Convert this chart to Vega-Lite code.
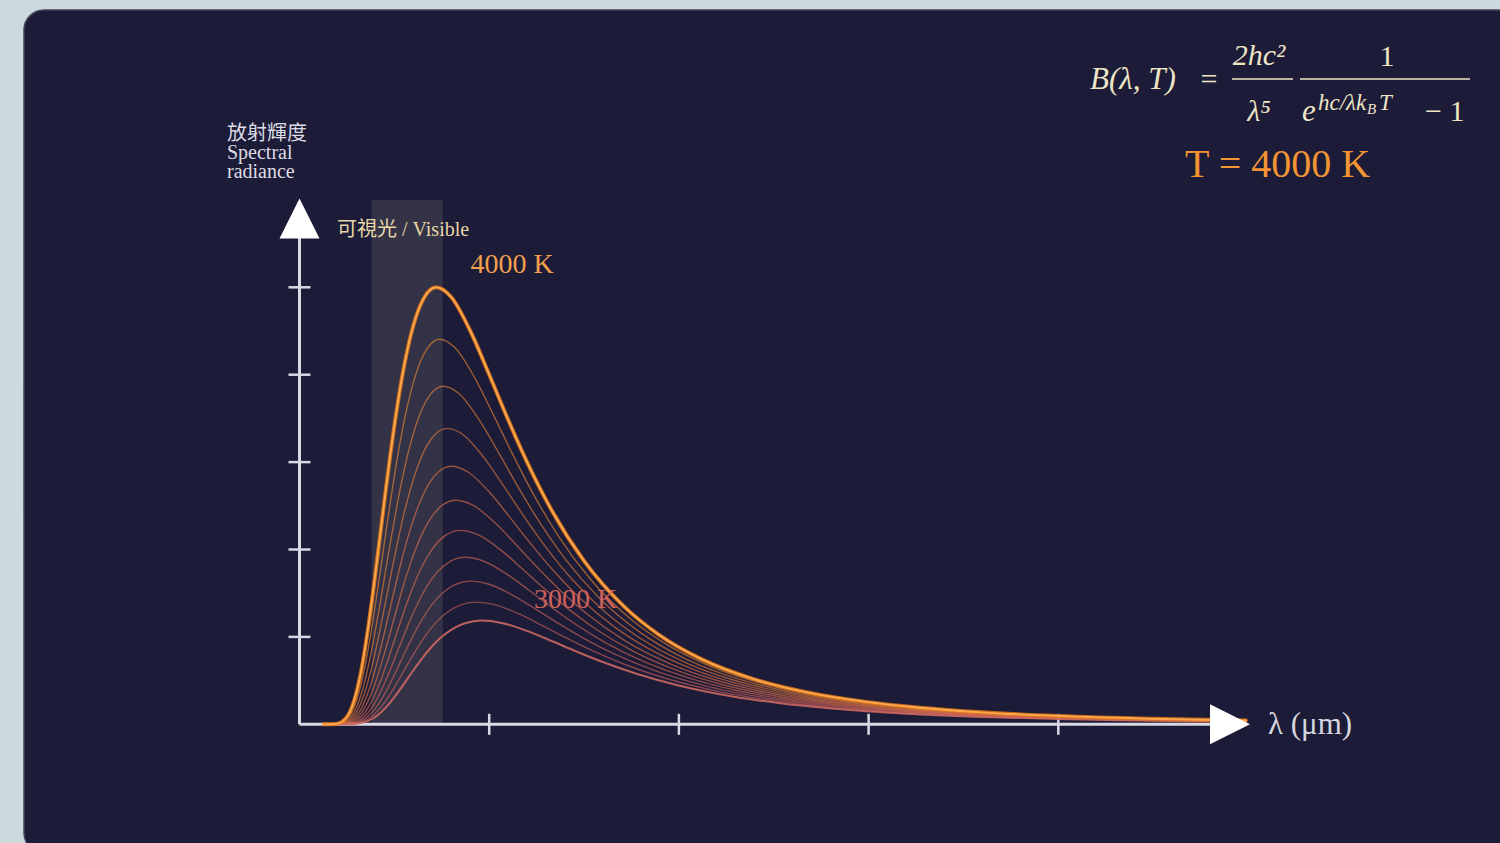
{
  "$schema": "https://vega.github.io/schema/vega-lite/v6.json",
  "width": 1500,
  "height": 843,
  "autosize": {"type": "fit", "contains": "padding"},
  "padding": {"left": 24, "top": 10, "right": -20, "bottom": -10},
  "background": "#cbdadd",
  "config": {"view": {"fill": "#1c1b38", "stroke": "#46465a", "strokeWidth": 1.5, "cornerRadius": 20}},
  "datasets": {
    "planck": [
      {"T":4000,"wavelength":4.9958,"radiance":0.0433},{"T":4000,"wavelength":4.4963,"radiance":0.0631},{"T":4000,"wavelength":3.9967,"radiance":0.0954},{"T":4000,"wavelength":3.597,"radiance":0.1373},{"T":4000,"wavelength":3.27,"radiance":0.1895},{"T":4000,"wavelength":2.9975,"radiance":0.2529},{"T":4000,"wavelength":2.6644,"radiance":0.3701},{"T":4000,"wavelength":2.398,"radiance":0.5144},{"T":4000,"wavelength":2.1159,"radiance":0.7485},{"T":4000,"wavelength":1.8932,"radiance":1.0271},{"T":4000,"wavelength":1.7129,"radiance":1.3441},{"T":4000,"wavelength":1.4988,"radiance":1.8736},{"T":4000,"wavelength":1.3322,"radiance":2.4381},{"T":4000,"wavelength":1.199,"radiance":3.0028},{"T":4000,"wavelength":1.09,"radiance":3.5345},{"T":4000,"wavelength":0.9992,"radiance":4.0059},{"T":4000,"wavelength":0.8993,"radiance":4.5057},{"T":4000,"wavelength":0.7993,"radiance":4.8889},{"T":4000,"wavelength":0.7194,"radiance":4.9995},{"T":4000,"wavelength":0.654,"radiance":4.8707},{"T":4000,"wavelength":0.5995,"radiance":4.557},{"T":4000,"wavelength":0.5534,"radiance":4.1202},{"T":4000,"wavelength":0.5139,"radiance":3.6178},{"T":4000,"wavelength":0.4796,"radiance":3.0971},{"T":4000,"wavelength":0.4496,"radiance":2.5933},{"T":4000,"wavelength":0.3997,"radiance":1.7188},{"T":4000,"wavelength":0.3597,"radiance":1.0708},{"T":4000,"wavelength":0.327,"radiance":0.6344},{"T":4000,"wavelength":0.2998,"radiance":0.3606},{"T":4000,"wavelength":0.2767,"radiance":0.1979},{"T":4000,"wavelength":0.2569,"radiance":0.1055},{"T":4000,"wavelength":0.2248,"radiance":0.0278},{"T":4000,"wavelength":0.1998,"radiance":0.0068},{"T":4000,"wavelength":0.1799,"radiance":0.0016},{"T":4000,"wavelength":0.1199,"radiance":0},
      {"T":3900,"wavelength":4.919,"radiance":0.0442},{"T":3900,"wavelength":4.6115,"radiance":0.0556},{"T":3900,"wavelength":4.0991,"radiance":0.0841},{"T":3900,"wavelength":3.6892,"radiance":0.1209},{"T":3900,"wavelength":3.3539,"radiance":0.167},{"T":3900,"wavelength":3.0744,"radiance":0.2229},{"T":3900,"wavelength":2.7328,"radiance":0.3261},{"T":3900,"wavelength":2.4595,"radiance":0.4532},{"T":3900,"wavelength":2.1701,"radiance":0.6595},{"T":3900,"wavelength":1.9417,"radiance":0.9049},{"T":3900,"wavelength":1.7568,"radiance":1.1842},{"T":3900,"wavelength":1.5372,"radiance":1.6508},{"T":3900,"wavelength":1.3664,"radiance":2.1482},{"T":3900,"wavelength":1.2297,"radiance":2.6457},{"T":3900,"wavelength":1.118,"radiance":3.1142},{"T":3900,"wavelength":1.0248,"radiance":3.5296},{"T":3900,"wavelength":0.9223,"radiance":3.97},{"T":3900,"wavelength":0.8198,"radiance":4.3076},{"T":3900,"wavelength":0.7379,"radiance":4.405},{"T":3900,"wavelength":0.6708,"radiance":4.2915},{"T":3900,"wavelength":0.6149,"radiance":4.0152},{"T":3900,"wavelength":0.5676,"radiance":3.6303},{"T":3900,"wavelength":0.527,"radiance":3.1876},{"T":3900,"wavelength":0.4919,"radiance":2.7288},{"T":3900,"wavelength":0.4612,"radiance":2.2849},{"T":3900,"wavelength":0.4099,"radiance":1.5144},{"T":3900,"wavelength":0.3689,"radiance":0.9434},{"T":3900,"wavelength":0.3354,"radiance":0.5589},{"T":3900,"wavelength":0.3074,"radiance":0.3177},{"T":3900,"wavelength":0.2838,"radiance":0.1744},{"T":3900,"wavelength":0.2635,"radiance":0.0929},{"T":3900,"wavelength":0.2306,"radiance":0.0245},{"T":3900,"wavelength":0.205,"radiance":0.006},{"T":3900,"wavelength":0.1845,"radiance":0.0014},{"T":3900,"wavelength":0.123,"radiance":0},
      {"T":3800,"wavelength":4.7329,"radiance":0.0488},{"T":3800,"wavelength":4.207,"radiance":0.0738},{"T":3800,"wavelength":3.7863,"radiance":0.1062},{"T":3800,"wavelength":3.4421,"radiance":0.1466},{"T":3800,"wavelength":3.1553,"radiance":0.1957},{"T":3800,"wavelength":2.8047,"radiance":0.2864},{"T":3800,"wavelength":2.5242,"radiance":0.398},{"T":3800,"wavelength":2.2272,"radiance":0.5791},{"T":3800,"wavelength":1.9928,"radiance":0.7947},{"T":3800,"wavelength":1.803,"radiance":1.04},{"T":3800,"wavelength":1.5776,"radiance":1.4497},{"T":3800,"wavelength":1.4023,"radiance":1.8866},{"T":3800,"wavelength":1.2621,"radiance":2.3235},{"T":3800,"wavelength":1.1474,"radiance":2.7349},{"T":3800,"wavelength":1.0518,"radiance":3.0997},{"T":3800,"wavelength":0.9466,"radiance":3.4864},{"T":3800,"wavelength":0.8414,"radiance":3.7829},{"T":3800,"wavelength":0.7573,"radiance":3.8685},{"T":3800,"wavelength":0.6884,"radiance":3.7688},{"T":3800,"wavelength":0.631,"radiance":3.5261},{"T":3800,"wavelength":0.5825,"radiance":3.1881},{"T":3800,"wavelength":0.5409,"radiance":2.7994},{"T":3800,"wavelength":0.5048,"radiance":2.3964},{"T":3800,"wavelength":0.4733,"radiance":2.0067},{"T":3800,"wavelength":0.4207,"radiance":1.33},{"T":3800,"wavelength":0.3786,"radiance":0.8285},{"T":3800,"wavelength":0.3442,"radiance":0.4909},{"T":3800,"wavelength":0.3155,"radiance":0.279},{"T":3800,"wavelength":0.2913,"radiance":0.1532},{"T":3800,"wavelength":0.2705,"radiance":0.0816},{"T":3800,"wavelength":0.2367,"radiance":0.0215},{"T":3800,"wavelength":0.2104,"radiance":0.0053},{"T":3800,"wavelength":0.1893,"radiance":0.0012},{"T":3800,"wavelength":0.1262,"radiance":0},
      {"T":3700,"wavelength":4.8608,"radiance":0.0427},{"T":3700,"wavelength":4.3207,"radiance":0.0646},{"T":3700,"wavelength":3.8887,"radiance":0.093},{"T":3700,"wavelength":3.5351,"radiance":0.1283},{"T":3700,"wavelength":3.2405,"radiance":0.1713},{"T":3700,"wavelength":2.8805,"radiance":0.2506},{"T":3700,"wavelength":2.5924,"radiance":0.3483},{"T":3700,"wavelength":2.2874,"radiance":0.5068},{"T":3700,"wavelength":2.0467,"radiance":0.6955},{"T":3700,"wavelength":1.8517,"radiance":0.9102},{"T":3700,"wavelength":1.6203,"radiance":1.2688},{"T":3700,"wavelength":1.4402,"radiance":1.6511},{"T":3700,"wavelength":1.2962,"radiance":2.0334},{"T":3700,"wavelength":1.1784,"radiance":2.3935},{"T":3700,"wavelength":1.0802,"radiance":2.7127},{"T":3700,"wavelength":0.9722,"radiance":3.0512},{"T":3700,"wavelength":0.8641,"radiance":3.3107},{"T":3700,"wavelength":0.7777,"radiance":3.3856},{"T":3700,"wavelength":0.707,"radiance":3.2983},{"T":3700,"wavelength":0.6481,"radiance":3.0859},{"T":3700,"wavelength":0.5983,"radiance":2.7902},{"T":3700,"wavelength":0.5555,"radiance":2.4499},{"T":3700,"wavelength":0.5185,"radiance":2.0973},{"T":3700,"wavelength":0.4861,"radiance":1.7562},{"T":3700,"wavelength":0.4321,"radiance":1.164},{"T":3700,"wavelength":0.3889,"radiance":0.7251},{"T":3700,"wavelength":0.3535,"radiance":0.4296},{"T":3700,"wavelength":0.3241,"radiance":0.2442},{"T":3700,"wavelength":0.2991,"radiance":0.134},{"T":3700,"wavelength":0.2778,"radiance":0.0714},{"T":3700,"wavelength":0.243,"radiance":0.0189},{"T":3700,"wavelength":0.216,"radiance":0.0046},{"T":3700,"wavelength":0.1944,"radiance":0.0011},{"T":3700,"wavelength":0.1296,"radiance":0},
      {"T":3600,"wavelength":4.9958,"radiance":0.0372},{"T":3600,"wavelength":4.4407,"radiance":0.0563},{"T":3600,"wavelength":3.9967,"radiance":0.0811},{"T":3600,"wavelength":3.6333,"radiance":0.1119},{"T":3600,"wavelength":3.3306,"radiance":0.1494},{"T":3600,"wavelength":2.9605,"radiance":0.2185},{"T":3600,"wavelength":2.6644,"radiance":0.3038},{"T":3600,"wavelength":2.351,"radiance":0.442},{"T":3600,"wavelength":2.1035,"radiance":0.6065},{"T":3600,"wavelength":1.9032,"radiance":0.7937},{"T":3600,"wavelength":1.6653,"radiance":1.1063},{"T":3600,"wavelength":1.4802,"radiance":1.4397},{"T":3600,"wavelength":1.3322,"radiance":1.7731},{"T":3600,"wavelength":1.2111,"radiance":2.0871},{"T":3600,"wavelength":1.1102,"radiance":2.3654},{"T":3600,"wavelength":0.9992,"radiance":2.6606},{"T":3600,"wavelength":0.8882,"radiance":2.8868},{"T":3600,"wavelength":0.7993,"radiance":2.9522},{"T":3600,"wavelength":0.7267,"radiance":2.8761},{"T":3600,"wavelength":0.6661,"radiance":2.6909},{"T":3600,"wavelength":0.6149,"radiance":2.4329},{"T":3600,"wavelength":0.571,"radiance":2.1362},{"T":3600,"wavelength":0.5329,"radiance":1.8288},{"T":3600,"wavelength":0.4996,"radiance":1.5313},{"T":3600,"wavelength":0.4441,"radiance":1.0149},{"T":3600,"wavelength":0.3997,"radiance":0.6323},{"T":3600,"wavelength":0.3633,"radiance":0.3746},{"T":3600,"wavelength":0.3331,"radiance":0.2129},{"T":3600,"wavelength":0.3074,"radiance":0.1169},{"T":3600,"wavelength":0.2855,"radiance":0.0623},{"T":3600,"wavelength":0.2498,"radiance":0.0164},{"T":3600,"wavelength":0.222,"radiance":0.004},{"T":3600,"wavelength":0.1998,"radiance":0.0009},{"T":3600,"wavelength":0.1332,"radiance":0},
      {"T":3500,"wavelength":4.8363,"radiance":0.0401},{"T":3500,"wavelength":4.5676,"radiance":0.0489},{"T":3500,"wavelength":4.1109,"radiance":0.0704},{"T":3500,"wavelength":3.7371,"radiance":0.0972},{"T":3500,"wavelength":3.4257,"radiance":0.1297},{"T":3500,"wavelength":3.0451,"radiance":0.1898},{"T":3500,"wavelength":2.7406,"radiance":0.2638},{"T":3500,"wavelength":2.4182,"radiance":0.3839},{"T":3500,"wavelength":2.1636,"radiance":0.5268},{"T":3500,"wavelength":1.9576,"radiance":0.6894},{"T":3500,"wavelength":1.7129,"radiance":0.961},{"T":3500,"wavelength":1.5225,"radiance":1.2505},{"T":3500,"wavelength":1.3703,"radiance":1.5401},{"T":3500,"wavelength":1.2457,"radiance":1.8129},{"T":3500,"wavelength":1.1419,"radiance":2.0547},{"T":3500,"wavelength":1.0277,"radiance":2.311},{"T":3500,"wavelength":0.9135,"radiance":2.5075},{"T":3500,"wavelength":0.8222,"radiance":2.5643},{"T":3500,"wavelength":0.7474,"radiance":2.4982},{"T":3500,"wavelength":0.6851,"radiance":2.3373},{"T":3500,"wavelength":0.6324,"radiance":2.1133},{"T":3500,"wavelength":0.5873,"radiance":1.8556},{"T":3500,"wavelength":0.5481,"radiance":1.5885},{"T":3500,"wavelength":0.5139,"radiance":1.3301},{"T":3500,"wavelength":0.4568,"radiance":0.8816},{"T":3500,"wavelength":0.4111,"radiance":0.5492},{"T":3500,"wavelength":0.3737,"radiance":0.3254},{"T":3500,"wavelength":0.3426,"radiance":0.1849},{"T":3500,"wavelength":0.3162,"radiance":0.1015},{"T":3500,"wavelength":0.2936,"radiance":0.0541},{"T":3500,"wavelength":0.2569,"radiance":0.0143},{"T":3500,"wavelength":0.2284,"radiance":0.0035},{"T":3500,"wavelength":0.2055,"radiance":0.0008},{"T":3500,"wavelength":0.137,"radiance":0},
      {"T":3400,"wavelength":4.9786,"radiance":0.0347},{"T":3400,"wavelength":4.702,"radiance":0.0423},{"T":3400,"wavelength":4.2318,"radiance":0.0609},{"T":3400,"wavelength":3.8471,"radiance":0.0841},{"T":3400,"wavelength":3.5265,"radiance":0.1122},{"T":3400,"wavelength":3.1346,"radiance":0.1642},{"T":3400,"wavelength":2.8212,"radiance":0.2282},{"T":3400,"wavelength":2.4893,"radiance":0.3321},{"T":3400,"wavelength":2.2272,"radiance":0.4557},{"T":3400,"wavelength":2.0151,"radiance":0.5964},{"T":3400,"wavelength":1.7632,"radiance":0.8313},{"T":3400,"wavelength":1.5673,"radiance":1.0818},{"T":3400,"wavelength":1.4106,"radiance":1.3323},{"T":3400,"wavelength":1.2823,"radiance":1.5683},{"T":3400,"wavelength":1.1755,"radiance":1.7774},{"T":3400,"wavelength":1.0579,"radiance":1.9992},{"T":3400,"wavelength":0.9404,"radiance":2.1692},{"T":3400,"wavelength":0.8464,"radiance":2.2183},{"T":3400,"wavelength":0.7694,"radiance":2.1611},{"T":3400,"wavelength":0.7053,"radiance":2.022},{"T":3400,"wavelength":0.651,"radiance":1.8282},{"T":3400,"wavelength":0.6045,"radiance":1.6052},{"T":3400,"wavelength":0.5642,"radiance":1.3742},{"T":3400,"wavelength":0.529,"radiance":1.1507},{"T":3400,"wavelength":0.4702,"radiance":0.7626},{"T":3400,"wavelength":0.4232,"radiance":0.4751},{"T":3400,"wavelength":0.3847,"radiance":0.2815},{"T":3400,"wavelength":0.3527,"radiance":0.16},{"T":3400,"wavelength":0.3255,"radiance":0.0878},{"T":3400,"wavelength":0.3023,"radiance":0.0468},{"T":3400,"wavelength":0.2645,"radiance":0.0124},{"T":3400,"wavelength":0.2351,"radiance":0.003},{"T":3400,"wavelength":0.2116,"radiance":0.0007},{"T":3400,"wavelength":0.1411,"radiance":0},
      {"T":3300,"wavelength":4.8444,"radiance":0.0365},{"T":3300,"wavelength":4.36,"radiance":0.0525},{"T":3300,"wavelength":3.9636,"radiance":0.0724},{"T":3300,"wavelength":3.6333,"radiance":0.0967},{"T":3300,"wavelength":3.2296,"radiance":0.1414},{"T":3300,"wavelength":2.9067,"radiance":0.1966},{"T":3300,"wavelength":2.5647,"radiance":0.286},{"T":3300,"wavelength":2.2947,"radiance":0.3925},{"T":3300,"wavelength":2.0762,"radiance":0.5137},{"T":3300,"wavelength":1.8167,"radiance":0.716},{"T":3300,"wavelength":1.6148,"radiance":0.9318},{"T":3300,"wavelength":1.4533,"radiance":1.1476},{"T":3300,"wavelength":1.3212,"radiance":1.3508},{"T":3300,"wavelength":1.2111,"radiance":1.531},{"T":3300,"wavelength":1.09,"radiance":1.722},{"T":3300,"wavelength":0.9689,"radiance":1.8684},{"T":3300,"wavelength":0.872,"radiance":1.9107},{"T":3300,"wavelength":0.7927,"radiance":1.8615},{"T":3300,"wavelength":0.7267,"radiance":1.7416},{"T":3300,"wavelength":0.6708,"radiance":1.5747},{"T":3300,"wavelength":0.6229,"radiance":1.3826},{"T":3300,"wavelength":0.5813,"radiance":1.1836},{"T":3300,"wavelength":0.545,"radiance":0.9911},{"T":3300,"wavelength":0.4844,"radiance":0.6569},{"T":3300,"wavelength":0.436,"radiance":0.4092},{"T":3300,"wavelength":0.3964,"radiance":0.2424},{"T":3300,"wavelength":0.3633,"radiance":0.1378},{"T":3300,"wavelength":0.3354,"radiance":0.0756},{"T":3300,"wavelength":0.3114,"radiance":0.0403},{"T":3300,"wavelength":0.2725,"radiance":0.0106},{"T":3300,"wavelength":0.2422,"radiance":0.0026},{"T":3300,"wavelength":0.218,"radiance":0.0006},{"T":3300,"wavelength":0.1453,"radiance":0},
      {"T":3200,"wavelength":4.9958,"radiance":0.0313},{"T":3200,"wavelength":4.4963,"radiance":0.045},{"T":3200,"wavelength":4.0875,"radiance":0.0621},{"T":3200,"wavelength":3.7469,"radiance":0.0829},{"T":3200,"wavelength":3.3306,"radiance":0.1213},{"T":3200,"wavelength":2.9975,"radiance":0.1686},{"T":3200,"wavelength":2.6449,"radiance":0.2453},{"T":3200,"wavelength":2.3665,"radiance":0.3365},{"T":3200,"wavelength":2.1411,"radiance":0.4404},{"T":3200,"wavelength":1.8734,"radiance":0.6139},{"T":3200,"wavelength":1.6653,"radiance":0.7989},{"T":3200,"wavelength":1.4988,"radiance":0.9839},{"T":3200,"wavelength":1.3625,"radiance":1.1582},{"T":3200,"wavelength":1.249,"radiance":1.3127},{"T":3200,"wavelength":1.1241,"radiance":1.4764},{"T":3200,"wavelength":0.9992,"radiance":1.602},{"T":3200,"wavelength":0.8993,"radiance":1.6382},{"T":3200,"wavelength":0.8175,"radiance":1.596},{"T":3200,"wavelength":0.7494,"radiance":1.4932},{"T":3200,"wavelength":0.6917,"radiance":1.3501},{"T":3200,"wavelength":0.6423,"radiance":1.1855},{"T":3200,"wavelength":0.5995,"radiance":1.0148},{"T":3200,"wavelength":0.562,"radiance":0.8498},{"T":3200,"wavelength":0.4996,"radiance":0.5632},{"T":3200,"wavelength":0.4496,"radiance":0.3509},{"T":3200,"wavelength":0.4088,"radiance":0.2079},{"T":3200,"wavelength":0.3747,"radiance":0.1182},{"T":3200,"wavelength":0.3459,"radiance":0.0649},{"T":3200,"wavelength":0.3212,"radiance":0.0346},{"T":3200,"wavelength":0.281,"radiance":0.0091},{"T":3200,"wavelength":0.2498,"radiance":0.0022},{"T":3200,"wavelength":0.2248,"radiance":0.0005},{"T":3200,"wavelength":0.1499,"radiance":0},
      {"T":3100,"wavelength":4.8856,"radiance":0.0322},{"T":3100,"wavelength":4.6413,"radiance":0.0384},{"T":3100,"wavelength":4.2194,"radiance":0.053},{"T":3100,"wavelength":3.8677,"radiance":0.0707},{"T":3100,"wavelength":3.438,"radiance":0.1035},{"T":3100,"wavelength":3.0942,"radiance":0.1438},{"T":3100,"wavelength":2.7302,"radiance":0.2093},{"T":3100,"wavelength":2.4428,"radiance":0.2871},{"T":3100,"wavelength":2.2101,"radiance":0.3758},{"T":3100,"wavelength":1.9339,"radiance":0.5238},{"T":3100,"wavelength":1.719,"radiance":0.6817},{"T":3100,"wavelength":1.5471,"radiance":0.8395},{"T":3100,"wavelength":1.4065,"radiance":0.9882},{"T":3100,"wavelength":1.2892,"radiance":1.12},{"T":3100,"wavelength":1.1603,"radiance":1.2597},{"T":3100,"wavelength":1.0314,"radiance":1.3668},{"T":3100,"wavelength":0.9283,"radiance":1.3978},{"T":3100,"wavelength":0.8439,"radiance":1.3617},{"T":3100,"wavelength":0.7736,"radiance":1.2741},{"T":3100,"wavelength":0.7141,"radiance":1.1519},{"T":3100,"wavelength":0.663,"radiance":1.0115},{"T":3100,"wavelength":0.6188,"radiance":0.8659},{"T":3100,"wavelength":0.5802,"radiance":0.725},{"T":3100,"wavelength":0.5157,"radiance":0.4805},{"T":3100,"wavelength":0.4641,"radiance":0.2994},{"T":3100,"wavelength":0.4219,"radiance":0.1774},{"T":3100,"wavelength":0.3868,"radiance":0.1008},{"T":3100,"wavelength":0.357,"radiance":0.0553},{"T":3100,"wavelength":0.3315,"radiance":0.0295},{"T":3100,"wavelength":0.2901,"radiance":0.0078},{"T":3100,"wavelength":0.2579,"radiance":0.0019},{"T":3100,"wavelength":0.2321,"radiance":0.0004},{"T":3100,"wavelength":0.1547,"radiance":0},
      {"T":3000,"wavelength":4.796,"radiance":0.0326},{"T":3000,"wavelength":4.36,"radiance":0.045},{"T":3000,"wavelength":3.9967,"radiance":0.06},{"T":3000,"wavelength":3.5526,"radiance":0.0878},{"T":3000,"wavelength":3.1973,"radiance":0.1221},{"T":3000,"wavelength":2.8212,"radiance":0.1776},{"T":3000,"wavelength":2.5242,"radiance":0.2437},{"T":3000,"wavelength":2.2838,"radiance":0.319},{"T":3000,"wavelength":1.9983,"radiance":0.4446},{"T":3000,"wavelength":1.7763,"radiance":0.5786},{"T":3000,"wavelength":1.5987,"radiance":0.7126},{"T":3000,"wavelength":1.4533,"radiance":0.8388},{"T":3000,"wavelength":1.3322,"radiance":0.9506},{"T":3000,"wavelength":1.199,"radiance":1.0692},{"T":3000,"wavelength":1.0658,"radiance":1.1602},{"T":3000,"wavelength":0.9592,"radiance":1.1864},{"T":3000,"wavelength":0.872,"radiance":1.1558},{"T":3000,"wavelength":0.7993,"radiance":1.0814},{"T":3000,"wavelength":0.7379,"radiance":0.9777},{"T":3000,"wavelength":0.6851,"radiance":0.8585},{"T":3000,"wavelength":0.6395,"radiance":0.7349},{"T":3000,"wavelength":0.5995,"radiance":0.6154},{"T":3000,"wavelength":0.5329,"radiance":0.4079},{"T":3000,"wavelength":0.4796,"radiance":0.2541},{"T":3000,"wavelength":0.436,"radiance":0.1505},{"T":3000,"wavelength":0.3997,"radiance":0.0856},{"T":3000,"wavelength":0.3689,"radiance":0.047},{"T":3000,"wavelength":0.3426,"radiance":0.025},{"T":3000,"wavelength":0.2998,"radiance":0.0066},{"T":3000,"wavelength":0.2664,"radiance":0.0016},{"T":3000,"wavelength":0.2398,"radiance":0.0004},{"T":3000,"wavelength":0.1599,"radiance":0}
    ]
  },
  "encoding": {
    "x": {"field": "wavelength", "type": "quantitative", "scale": {"domain": [-1.45229, 6.43385], "nice": false, "zero": false}, "axis": null},
    "y": {"field": "radiance", "type": "quantitative", "scale": {"domain": [-1.4725, 8.1728], "nice": false, "zero": false}, "axis": null}
  },
  "layer": [
    {
      "data": {"values": [{"wavelength": 0.38, "wavelength2": 0.755, "radiance": 0, "radiance2": 6.0}]},
      "mark": {"type": "rect", "fill": "#8c867c", "opacity": 0.22},
      "encoding": {"x2": {"field": "wavelength2"}, "y2": {"field": "radiance2"}}
    },
    {
      "data": {"values": [
        {"wavelength": 0, "wavelength2": 4.9, "radiance": 0, "radiance2": 0},
        {"wavelength": 0, "wavelength2": 0, "radiance": 0, "radiance2": 5.8}
      ]},
      "mark": {"type": "rule", "color": "#d9d9e4", "strokeWidth": 3},
      "encoding": {"x2": {"field": "wavelength2"}, "y2": {"field": "radiance2"}}
    },
    {
      "data": {"values": [{"wavelength": 1, "radiance": 0}, {"wavelength": 2, "radiance": 0}, {"wavelength": 3, "radiance": 0}, {"wavelength": 4, "radiance": 0}]},
      "mark": {"type": "tick", "orient": "vertical", "size": 21, "thickness": 2.5, "color": "#d9d9e4", "opacity": 1}
    },
    {
      "data": {"values": [{"wavelength": 0, "radiance": 1}, {"wavelength": 0, "radiance": 2}, {"wavelength": 0, "radiance": 3}, {"wavelength": 0, "radiance": 4}, {"wavelength": 0, "radiance": 5}]},
      "mark": {"type": "tick", "orient": "horizontal", "size": 22, "thickness": 2.5, "color": "#d9d9e4", "opacity": 1}
    },
    {
      "data": {"name": "planck"},
      "transform": [{"filter": "datum.T > 3000 && datum.T < 4000"}],
      "mark": {"type": "line", "interpolate": "monotone", "strokeWidth": 1.4, "opacity": 0.6},
      "encoding": {
        "detail": {"field": "T"},
        "color": {"field": "T", "type": "quantitative", "scale": {"domain": [3000, 4000], "range": ["#c8605e", "#f0902a"]}, "legend": null}
      }
    },
    {
      "data": {"name": "planck"},
      "transform": [{"filter": "datum.T == 3000"}],
      "mark": {"type": "line", "interpolate": "monotone", "strokeWidth": 2, "color": "#cc6862", "opacity": 0.9}
    },
    {
      "data": {"name": "planck"},
      "transform": [{"filter": "datum.T == 4000"}],
      "mark": {"type": "line", "interpolate": "monotone", "strokeWidth": 4, "color": "#dc7418", "opacity": 0.9}
    },
    {
      "data": {"name": "planck"},
      "transform": [{"filter": "datum.T == 4000"}],
      "mark": {"type": "line", "interpolate": "monotone", "strokeWidth": 1.8, "color": "#ffaa50"}
    },
    {
      "data": {"values": [{"wavelength": 4.905, "radiance": 0}]},
      "mark": {"type": "point", "shape": "M-1,-1L1,0L-1,1Z", "size": 1600, "filled": true, "color": "#ffffff", "opacity": 1}
    },
    {
      "data": {"values": [{"wavelength": 0, "radiance": 5.787}]},
      "mark": {"type": "point", "shape": "M0,-1L1,1L-1,1Z", "size": 1600, "filled": true, "color": "#ffffff", "opacity": 1}
    },
    {
      "data": {"values": [{"wavelength": 1.1202, "radiance": 5.255, "label": "4000 K"}]},
      "mark": {"type": "text", "font": "Liberation Serif", "fontSize": 28, "color": "#f2a04c", "align": "center", "baseline": "middle"},
      "encoding": {"text": {"field": "label"}}
    },
    {
      "data": {"values": [{"wavelength": 1.4549, "radiance": 1.4222, "label": "3000 K"}]},
      "mark": {"type": "text", "font": "Liberation Serif", "fontSize": 28, "color": "#d0625e", "align": "center", "baseline": "middle"},
      "encoding": {"text": {"field": "label"}}
    },
    {
      "data": {"values": [{"wavelength": 0.1977, "radiance": 5.6556, "label": "可視光 / Visible"}]},
      "mark": {"type": "text", "font": "Liberation Serif, Noto Sans CJK TC", "fontSize": 20, "color": "#e8d7a6", "align": "left", "baseline": "middle"},
      "encoding": {"text": {"field": "label"}}
    },
    {
      "data": {"values": [
        {"wavelength": -0.3822, "radiance": 6.7585, "label": "放射輝度"},
        {"wavelength": -0.3822, "radiance": 6.5412, "label": "Spectral"},
        {"wavelength": -0.3822, "radiance": 6.3238, "label": "radiance"}
      ]},
      "mark": {"type": "text", "font": "Liberation Serif, Noto Sans CJK TC", "fontSize": 20, "color": "#dcdce4", "align": "left", "baseline": "middle"},
      "encoding": {"text": {"field": "label"}}
    },
    {
      "data": {"values": [{"wavelength": 5.1054, "radiance": -0.008, "label": "λ (μm)"}]},
      "mark": {"type": "text", "font": "Liberation Serif", "fontSize": 31, "color": "#d6d6de", "align": "left", "baseline": "middle"},
      "encoding": {"text": {"field": "label"}}
    },
    {
      "data": {"values": [{"wavelength": 5.1555, "radiance": 6.3993, "label": "T = 4000 K"}]},
      "mark": {"type": "text", "font": "Liberation Serif", "fontSize": 40, "color": "#f39534", "align": "center", "baseline": "middle"},
      "encoding": {"text": {"field": "label"}}
    },
    {
      "data": {"values": [
        {"wavelength": 4.1671, "radiance": 7.2689, "label": "B(λ, T)"},
        {"wavelength": 5.2847, "radiance": 6.9073, "label": "e"}
      ]},
      "mark": {"type": "text", "font": "Liberation Serif", "fontStyle": "italic", "fontSize": 31, "color": "#efe6c6", "align": "left", "baseline": "alphabetic"},
      "encoding": {"text": {"field": "label"}}
    },
    {
      "data": {"values": [
        {"wavelength": 5.058, "radiance": 7.5435, "label": "2hc²"},
        {"wavelength": 5.058, "radiance": 6.9073, "label": "λ⁵"}
      ]},
      "mark": {"type": "text", "font": "Liberation Serif", "fontStyle": "italic", "fontSize": 30, "color": "#efe6c6", "align": "center", "baseline": "alphabetic"},
      "encoding": {"text": {"field": "label"}}
    },
    {
      "data": {"values": [
        {"wavelength": 4.7944, "radiance": 7.2689, "label": "="},
        {"wavelength": 5.7327, "radiance": 7.532, "label": "1"}
      ]},
      "mark": {"type": "text", "font": "Liberation Serif", "fontSize": 30, "color": "#efe6c6", "align": "center", "baseline": "alphabetic"},
      "encoding": {"text": {"field": "label"}}
    },
    {
      "data": {"values": [{"wavelength": 5.933, "radiance": 6.9073, "label": "− 1"}]},
      "mark": {"type": "text", "font": "Liberation Serif", "fontSize": 30, "color": "#efe6c6", "align": "left", "baseline": "alphabetic"},
      "encoding": {"text": {"field": "label"}}
    },
    {
      "data": {"values": [
        {"wavelength": 5.369, "radiance": 7.0286, "label": "hc/λk"},
        {"wavelength": 5.6906, "radiance": 7.0286, "label": "T"}
      ]},
      "mark": {"type": "text", "font": "Liberation Serif", "fontStyle": "italic", "fontSize": 23, "color": "#efe6c6", "align": "left", "baseline": "alphabetic"},
      "encoding": {"text": {"field": "label"}}
    },
    {
      "data": {"values": [{"wavelength": 5.6273, "radiance": 6.9829, "label": "B"}]},
      "mark": {"type": "text", "font": "Liberation Serif", "fontStyle": "italic", "fontSize": 15, "color": "#efe6c6", "align": "left", "baseline": "alphabetic"},
      "encoding": {"text": {"field": "label"}}
    },
    {
      "data": {"values": [
        {"wavelength": 4.9157, "wavelength2": 5.2372, "radiance": 7.3833, "radiance2": 7.3833},
        {"wavelength": 5.2741, "wavelength2": 6.1703, "radiance": 7.3833, "radiance2": 7.3833}
      ]},
      "mark": {"type": "rule", "color": "#efe6c6", "strokeWidth": 1.6},
      "encoding": {"x2": {"field": "wavelength2"}, "y2": {"field": "radiance2"}}
    }
  ]
}
